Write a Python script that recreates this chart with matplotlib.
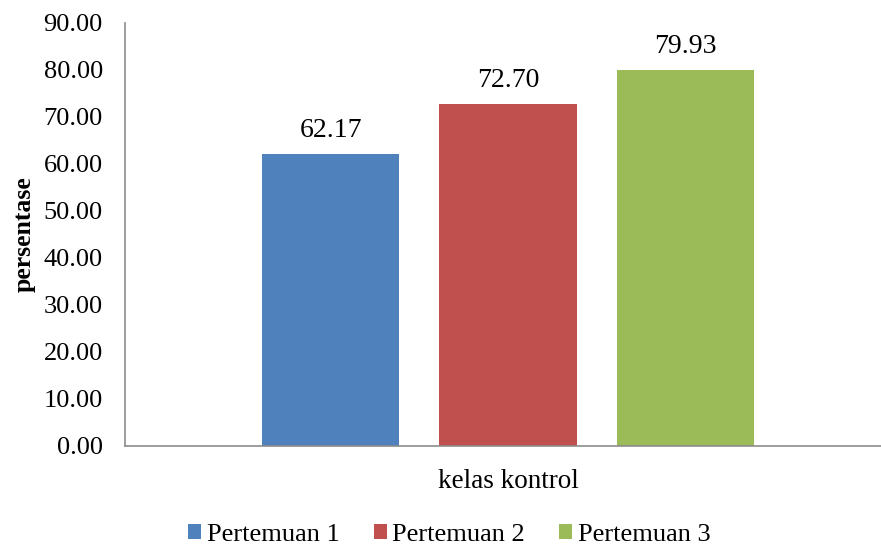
import numpy as np
import matplotlib.pyplot as plt

plt.rcParams['font.family'] = ['Liberation Serif', 'DejaVu Serif']

# data
kelas = 'kelas kontrol'
pertemuan = ['Pertemuan 1', 'Pertemuan 2', 'Pertemuan 3']
persentase = [62.17, 72.70, 79.93]
warna = ['#4F81BD', '#C0504D', '#9BBB59']

fig = plt.figure(figsize=(8.81, 5.45), dpi=100)
ax = fig.add_axes([0.1419, 0.182, 0.8581, 0.776])

lebar = 0.1815
offset = [-0.2345, 0.0, 0.2345]
for i in range(3):
    x = 0.5066 + offset[i]
    ax.bar(x, persentase[i], width=lebar, color=warna[i], label=pertemuan[i])
    ax.text(x, persentase[i] + 2.3, f'{persentase[i]:.2f}', ha='center', va='bottom', fontsize=20)

ax.set_xlim(0, 1)
ax.set_ylim(0, 90)
ax.set_yticks(np.arange(0, 91, 10))
ax.set_yticklabels([f'{v:.2f}' for v in np.arange(0, 91, 10)], fontsize=19)
ax.tick_params(axis='y', length=0, pad=16)
ax.set_xticks([0.5066])
ax.set_xticklabels([kelas], fontsize=19.5)
ax.tick_params(axis='x', length=0, pad=17)

for s in ['top', 'right']:
    ax.spines[s].set_visible(False)
for s in ['left', 'bottom']:
    ax.spines[s].set_color('#8C8C8C')
    ax.spines[s].set_linewidth(1.2)

ax.set_ylabel('persentase', fontsize=18.5, fontweight='bold', labelpad=6)

fig.legend(loc='lower center', bbox_to_anchor=(0.51, -0.045), ncol=3, frameon=False,
           fontsize=19, handlelength=0.5, handleheight=0.5, handletextpad=0.2, columnspacing=1.3)

fig.savefig('out.png', dpi=100)
